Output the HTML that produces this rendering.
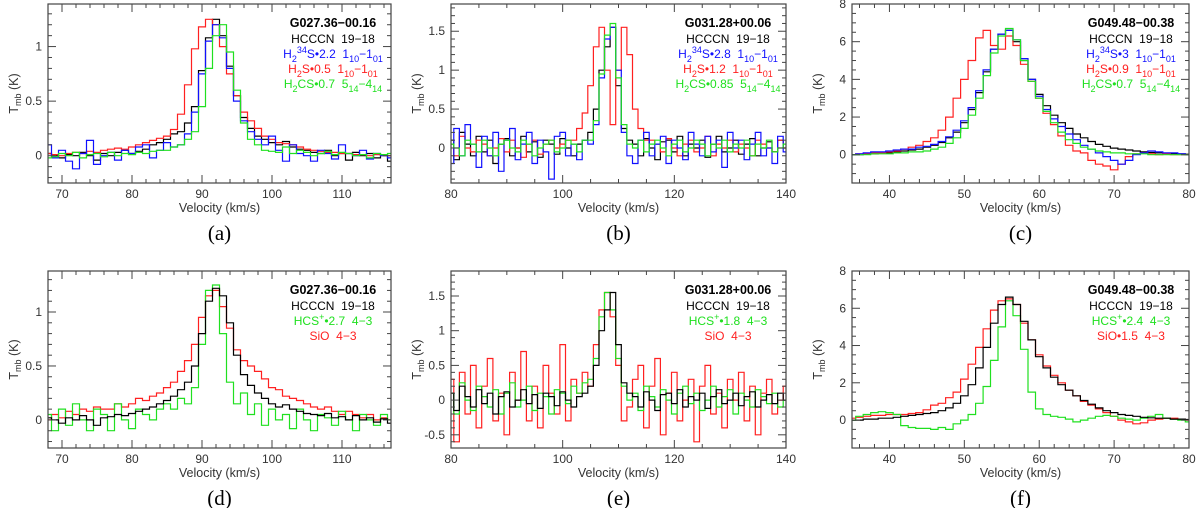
<!DOCTYPE html>
<html><head><meta charset="utf-8"><style>
body{margin:0;background:#fff;width:1200px;height:508px;overflow:hidden}
svg{display:block}
text{font-family:"Liberation Sans",sans-serif}
</style></head><body>
<svg id="fig" width="1200" height="508" viewBox="0 0 1200 508"></svg>
<script>
// ---- data arrays (Tmb in K per 1 km/s channel) ----
const aBlack=[0.02,0,-0.02,0.01,0,0.03,0,-0.04,0.02,0,0.03,0.05,0.02,0.04,0.06,0.1,0.12,0.15,0.2,0.22,0.3,0.45,0.78,1.08,1.25,1.1,0.82,0.55,0.35,0.25,0.18,0.15,0.12,0.1,0.13,0.08,0.06,0.05,0.03,0.02,0.05,0,0.02,-0.04,0.03,0,0.02,-0.02,0.01,-0.05];
const aBlue=[0.1,-0.02,0.05,-0.05,-0.12,0.02,0.14,-0.08,0,0.03,-0.04,0.05,0.02,0.08,0.1,-0.02,0.05,0.12,0.08,0.1,0.2,0.4,0.75,1.05,1.2,1.08,0.8,0.5,0.32,0.22,0.15,0.1,0.18,0.05,-0.05,0.1,0.02,0.0,-0.05,0.05,0.02,-0.03,0.1,0.02,0.0,0.05,-0.03,0.02,0.0,-0.02];
const aRed=[0.02,0.01,0,0.02,0.03,0.02,0.04,0.03,0.05,0.06,0.07,0.06,0.08,0.1,0.12,0.14,0.16,0.18,0.24,0.38,0.65,0.98,1.18,1.25,1.2,1.0,0.75,0.55,0.4,0.32,0.25,0.18,0.15,0.12,0.11,0.1,0.08,0.06,0.05,0.04,0.03,0.03,0.02,0.02,0.01,0.01,0,0.01,0,0];
const aGreen=[-0.02,-0.01,0.02,0,0.03,-0.02,0.01,0.02,-0.01,0.03,0,0.02,0.01,0.03,0.02,0.04,0.05,0.05,0.08,0.1,0.15,0.22,0.45,0.8,1.1,1.2,0.95,0.6,0.3,0.15,0.1,0.05,0.04,0.03,0.08,0.02,0.05,0.03,0.0,0.02,0.04,0.01,0.03,0.02,0.0,0.01,-0.02,0.02,0.01,0.02];

const bBlack=[0.1,-0.15,0.2,0.05,-0.1,0.15,-0.05,0.1,-0.2,0.05,0.12,-0.1,0.0,0.15,-0.05,0.08,-0.12,0.1,0.05,-0.08,0.12,0.0,-0.1,0.05,0.1,0.2,0.5,1.0,1.3,1.55,0.8,0.25,0.1,0.05,-0.1,0.12,0.0,-0.15,0.08,0.1,-0.05,0.15,-0.1,0.05,0.0,0.1,-0.12,0.05,0.15,-0.05,0.0,0.1,-0.08,0.05,0.12,-0.1,0.0,0.08,-0.05,0.1,0.0];
const bBlue=[-0.2,0.25,-0.1,0.3,0.05,-0.25,0.15,-0.1,0.2,-0.3,0.1,0.25,-0.15,0.05,0.2,-0.2,0.1,-0.05,-0.4,0.15,0.2,-0.1,0.05,-0.15,0.1,0.05,0.3,0.9,1.4,1.55,1.0,0.2,-0.1,-0.2,0.1,0.2,-0.1,0.05,0.15,-0.2,0.1,0.0,-0.15,0.2,0.05,-0.1,0.15,-0.05,0.1,-0.25,0.2,0.0,0.1,-0.15,0.05,0.2,-0.1,0.0,-0.2,0.15,-0.05];
const bRed=[0.05,-0.1,0.15,0.0,-0.05,0.1,0.05,-0.1,0.0,0.12,-0.05,0.1,0.0,-0.12,0.05,0.1,-0.08,0.05,0.1,0.0,0.05,0.1,0.1,0.25,0.45,0.8,1.3,1.55,1.0,0.3,1.0,1.55,1.2,0.5,0.25,0.1,0.1,0.05,-0.05,0.12,0.0,-0.1,0.05,0.1,-0.05,0.0,0.15,-0.1,0.05,0.0,0.1,-0.05,0.05,0.0,-0.1,0.1,0.05,0.0,-0.05,0.1,0.0];
const bGreen=[0.05,0.0,-0.1,0.1,0.05,-0.05,0.1,0.0,-0.1,0.05,0.1,0.0,-0.05,0.1,0.05,-0.1,0.0,0.05,0.1,-0.05,0.0,0.1,0.05,-0.05,0.1,0.1,0.35,0.95,1.45,1.6,0.9,0.3,0.05,0.0,0.1,-0.05,0.05,0.1,0.0,-0.1,0.05,0.1,-0.05,0.0,0.1,0.05,-0.1,0.05,0.0,0.1,-0.05,0.05,0.0,0.1,-0.1,0.05,0.0,0.1,-0.05,0.0,0.05];

const cBlack=[0,0,0.05,0.05,0.1,0.1,0.15,0.2,0.25,0.3,0.4,0.5,0.65,0.9,1.2,1.7,2.4,3.3,4.4,5.6,6.4,6.6,6.0,5.0,4.0,3.2,2.6,2.1,1.7,1.4,1.1,0.9,0.7,0.55,0.45,0.35,0.3,0.25,0.2,0.15,0.12,0.1,0.08,0.05,0.05,0.03];
const cBlue=[0,0.05,0.1,0.15,0.15,0.2,0.25,0.3,0.3,0.4,0.45,0.55,0.7,0.95,1.3,1.8,2.5,3.4,4.5,5.6,6.4,6.6,6.1,5.1,4.0,3.1,2.4,1.9,1.5,1.1,0.8,0.5,0.3,0.1,-0.1,-0.3,-0.5,-0.3,0.0,0.1,0.2,0.15,0.1,0.1,0.05,0.0];
const cRed=[0,0.05,0.05,0.1,0.1,0.15,0.2,0.3,0.4,0.5,0.7,0.9,1.3,2.0,3.0,4.0,5.0,6.2,6.6,5.8,5.6,6.3,5.8,4.8,3.9,3.0,2.2,1.6,1.0,0.5,0.2,0.1,-0.3,-0.5,-0.6,-0.8,-0.5,-0.1,0.05,0.1,0.05,0.0,0.05,0.0,0.0,0.0];
const cGreen=[0,0,0,0.05,0.05,0.05,0.1,0.1,0.15,0.15,0.2,0.3,0.4,0.6,0.9,1.4,2.1,3.0,4.2,5.4,6.3,6.7,6.1,5.0,3.9,3.0,2.3,1.7,1.2,0.8,0.6,0.4,0.3,0.2,0.15,0.1,0.1,0.05,0.05,0.05,0.0,0.0,0.0,0.0,0.0,0.0];

const dBlack=[0.02,0,-0.03,0.02,0,0.04,0,-0.05,0.02,0.03,0.05,0.04,0.06,0.08,0.1,0.12,0.15,0.18,0.22,0.28,0.35,0.5,0.8,1.1,1.22,1.15,0.9,0.6,0.42,0.32,0.25,0.2,0.15,0.12,0.14,0.1,0.08,0.06,0.05,0.04,0.06,0.02,0.03,0.0,0.04,0.0,0.02,-0.02,0.01,-0.03];
const dGreen=[0.05,-0.1,0.1,-0.05,0.15,0.0,-0.1,0.1,0.05,-0.1,0.15,0.0,-0.08,0.1,0.05,0.0,0.1,0.15,0.1,0.2,0.15,0.3,0.7,1.2,1.25,0.8,0.35,0.15,0.25,0.05,0.15,-0.05,0.1,0.0,0.05,-0.08,0.1,0.0,-0.1,0.05,0.02,-0.05,0.08,0.0,-0.1,0.05,0.0,-0.05,0.05,0.0];
const dRed=[0.0,0.05,0.02,0.08,0.05,0.1,0.08,0.12,0.1,0.1,0.15,0.12,0.15,0.2,0.18,0.22,0.25,0.3,0.35,0.45,0.55,0.7,0.95,1.15,1.2,1.05,0.85,0.65,0.55,0.5,0.45,0.38,0.3,0.28,0.22,0.2,0.18,0.15,0.12,0.1,0.12,0.08,0.05,0.08,0.05,0.02,0.05,0.0,0.02,0.0];

const eBlack=[0.1,-0.15,0.2,0.05,-0.1,0.15,-0.05,0.1,-0.2,0.05,0.12,-0.1,0.0,0.15,-0.05,0.08,-0.12,0.1,0.05,-0.08,0.12,0.0,-0.1,0.05,0.1,0.2,0.5,1.0,1.3,1.55,0.8,0.25,0.1,0.05,-0.1,0.12,0.0,-0.15,0.08,0.1,-0.05,0.15,-0.1,0.05,0.0,0.1,-0.12,0.05,0.15,-0.05,0.0,0.1,-0.08,0.05,0.12,-0.1,0.0,0.08,-0.05,0.1,0.0];
const eGreen=[0.1,-0.2,0.25,0.0,-0.15,0.2,0.05,-0.1,0.15,-0.2,0.1,0.25,-0.1,0.0,0.2,-0.15,0.1,0.05,-0.2,0.15,0.1,-0.05,0.2,0.1,0.25,0.3,0.6,1.2,1.55,1.3,0.6,0.2,0.0,0.1,-0.15,0.2,0.05,-0.1,0.15,0.0,-0.2,0.1,0.2,-0.05,0.1,-0.15,0.0,0.2,-0.1,0.05,0.15,-0.2,0.1,0.0,-0.1,0.15,0.05,-0.05,0.1,-0.1,0.0];
const eRed=[0.3,-0.6,0.4,-0.2,0.5,-0.4,0.2,0.6,-0.3,0.1,-0.5,0.4,0.0,0.7,-0.3,0.2,-0.4,0.5,0.1,-0.2,0.8,-0.3,0.3,0.1,0.4,0.2,0.8,1.3,1.55,1.2,0.5,-0.3,-0.1,0.3,0.5,-0.4,0.2,0.6,-0.5,0.1,0.4,-0.3,0.0,0.3,-0.6,0.2,0.5,-0.2,0.1,-0.4,0.3,0.0,0.4,-0.3,0.2,-0.5,0.1,0.3,-0.2,0.0,0.2];

const fBlack=[0,0,0.05,0.05,0.1,0.1,0.15,0.2,0.25,0.3,0.35,0.4,0.5,0.65,0.9,1.3,1.9,2.8,3.9,5.2,6.2,6.6,6.2,5.3,4.3,3.4,2.8,2.3,1.9,1.6,1.3,1.05,0.85,0.65,0.5,0.4,0.3,0.25,0.2,0.15,0.12,0.1,0.1,0.05,0.05,0.03];
const fGreen=[0.0,0.2,0.3,0.4,0.45,0.4,0.3,-0.3,-0.4,-0.45,-0.45,-0.5,-0.4,-0.5,-0.2,0.0,0.3,0.9,1.8,3.2,5.0,6.4,5.6,3.8,1.5,0.6,0.3,0.2,0.15,0.05,-0.1,0.0,0.1,0.2,0.25,0.2,0.1,0.05,0.0,0.1,0.2,0.3,0.1,0.05,0.0,-0.1];
const fRed=[0.1,0.15,0.2,0.25,0.25,0.3,0.3,0.3,0.35,0.4,0.55,0.8,0.9,1.2,1.5,2.2,3.0,3.9,4.9,5.9,6.4,6.5,6.2,5.2,4.3,3.5,2.9,2.4,2.0,1.6,1.3,1.0,0.8,0.6,0.4,0.2,0.0,-0.1,-0.2,-0.15,0.0,0.05,0.1,0.1,0.05,0.0];

const xTicksA=[70,80,90,100,110], yTicksA=[0,0.5,1];
const xTicksB=[80,100,120,140], yTicksB=[0,0.5,1,1.5], yTicksE=[-0.5,0,0.5,1,1.5];
const xTicksC=[40,50,60,70,80], yTicksC=[0,2,4,6,8];

const NS='http://www.w3.org/2000/svg';
const svg=document.getElementById('fig');
function el(tag,attrs,parent){const e=document.createElementNS(NS,tag);for(const k in attrs)e.setAttribute(k,attrs[k]);(parent||svg).appendChild(e);return e;}

const panels=[
 {id:'a',L:48,R:391,T:4,B:183,x0:68,x1:117,y0:-0.25,y1:1.39,xt:xTicksA,yt:yTicksA,xm:2,ym:0.1,
  series:[[aBlack,'#000'],[aRed,'#ff2020'],[aBlue,'#1010ff'],[aGreen,'#20e020']],vs:68,
  src:'G027.36\u221200.16',leg:[['HCCCN  19\u221218','#000'],['H2^34S*2.2  1_10\u22121_01','#1010ff'],['H_2S*0.5  1_10\u22121_01','#ff2020'],['H_2CS*0.7  5_14\u22124_14','#20e020']]},
 {id:'b',L:451,R:786,T:4,B:183,x0:80,x1:140,y0:-0.45,y1:1.85,xt:xTicksB,yt:yTicksB,xm:5,ym:0.1,
  series:[[bBlack,'#000'],[bRed,'#ff2020'],[bBlue,'#1010ff'],[bGreen,'#20e020']],vs:80,
  src:'G031.28+00.06',leg:[['HCCCN  19\u221218','#000'],['H2^34S*2.8  1_10\u22121_01','#1010ff'],['H_2S*1.2  1_10\u22121_01','#ff2020'],['H_2CS*0.85  5_14\u22124_14','#20e020']]},
 {id:'c',L:852,R:1189,T:4,B:183,x0:35,x1:80,y0:-1.5,y1:8,xt:xTicksC,yt:yTicksC,xm:2,ym:0.5,
  series:[[cBlack,'#000'],[cRed,'#ff2020'],[cBlue,'#1010ff'],[cGreen,'#20e020']],vs:35,
  src:'G049.48\u221200.38',leg:[['HCCCN  19\u221218','#000'],['H2^34S*3  1_10\u22121_01','#1010ff'],['H_2S*0.9  1_10\u22121_01','#ff2020'],['H_2CS*0.7  5_14\u22124_14','#20e020']]},
 {id:'d',L:48,R:391,T:271,B:448,x0:68,x1:117,y0:-0.26,y1:1.38,xt:xTicksA,yt:yTicksA,xm:2,ym:0.1,
  series:[[dRed,'#ff2020'],[dGreen,'#20e020'],[dBlack,'#000']],vs:68,
  src:'G027.36\u221200.16',leg:[['HCCCN  19\u221218','#000'],['HCS^+*2.7  4\u22123','#20e020'],['SiO  4\u22123','#ff2020']]},
 {id:'e',L:451,R:786,T:271,B:448,x0:80,x1:140,y0:-0.69,y1:1.86,xt:xTicksB,yt:yTicksE,xm:5,ym:0.1,
  series:[[eRed,'#ff2020'],[eGreen,'#20e020'],[eBlack,'#000']],vs:80,
  src:'G031.28+00.06',leg:[['HCCCN  19\u221218','#000'],['HCS^+*1.8  4\u22123','#20e020'],['SiO  4\u22123','#ff2020']]},
 {id:'f',L:852,R:1189,T:271,B:448,x0:35,x1:80,y0:-1.5,y1:8,xt:xTicksC,yt:yTicksC,xm:2,ym:0.5,
  series:[[fRed,'#ff2020'],[fGreen,'#20e020'],[fBlack,'#000']],vs:35,
  src:'G049.48\u221200.38',leg:[['HCCCN  19\u221218','#000'],['HCS^+*2.4  4\u22123','#20e020'],['SiO*1.5  4\u22123','#ff2020']]},
];

let curShift=0;
function addT(t,txt,mode){
  const sp=document.createElementNS(NS,'tspan');
  const target=mode===1?4:mode===-1?-5:0;
  sp.setAttribute('dy',target-curShift);
  curShift=target;
  if(mode!==0)sp.setAttribute('font-size','9');
  sp.textContent=txt;
  t.appendChild(sp);
}
function richText(t,str){
  let s=str.replace('*','\u2022');
  let i=0;
  while(i<s.length){
    if(s.startsWith('H2^',i)){ addT(t,'H',0); addT(t,'2',1); i+=3; let j=i; while(/\d/.test(s[j]))j++; addT(t,s.slice(i,j),-1); i=j; continue;}
    if(s[i]==='_'){let j=i+1; while(j<s.length&&/\d/.test(s[j]))j++; addT(t,s.slice(i+1,j),1); i=j; continue;}
    if(s[i]==='^'){let j=i+1; while(j<s.length&&s[j]!=='\u2022')j++; addT(t,s.slice(i+1,j),-1); i=j; continue;}
    let j=i; while(j<s.length&&s[j]!=='_'&&s[j]!=='^'&&!s.startsWith('H2^',j))j++;
    addT(t,s.slice(i,j),0); i=j;
  }
}

panels.forEach(p=>{
  const g=el('g',{});
  
  
  const X=v=>p.L+(v-p.x0)/(p.x1-p.x0)*(p.R-p.L);
  const Y=v=>p.B-(v-p.y0)/(p.y1-p.y0)*(p.B-p.T);
  const clipId='clip'+p.id;
  const cp=el('clipPath',{id:clipId},g); el('rect',{x:p.L,y:p.T,width:p.R-p.L,height:p.B-p.T},cp);
  p.series.forEach((s,k)=>{
    const arr=s[0];
    let d='';
    for(let i=0;i<arr.length;i++){
      const xa=X(p.vs+i-0.5), xb=X(p.vs+i+0.5), y=Y(arr[i]);
      d+=(i===0?'M':'L')+xa.toFixed(1)+','+y.toFixed(1)+'L'+xb.toFixed(1)+','+y.toFixed(1);
    }
    const path=el('path',{d:d,fill:'none',stroke:s[1],'stroke-width':1.2,'clip-path':'url(#'+clipId+')'},g);
    
    
  });
  const fr=el('rect',{x:p.L,y:p.T,width:p.R-p.L,height:p.B-p.T,fill:'none',stroke:'#444','stroke-width':1.2},g);
  
  
  for(let v=Math.ceil(p.x0/p.xm)*p.xm; v<=p.x1; v+=p.xm){
    const x=X(v); const major=p.xt.includes(v);
    const h=major?8:4;
    el('line',{x1:x,y1:p.B,x2:x,y2:p.B-h,stroke:'#444'},g);
    el('line',{x1:x,y1:p.T,x2:x,y2:p.T+h,stroke:'#444'},g);
  }
  for(let v=Math.ceil(p.y0/p.ym-1e-6)*p.ym; v<=p.y1+1e-9; v+=p.ym){
    const vv=Math.round(v*100)/100; const y=Y(vv);
    const major=p.yt.some(t=>Math.abs(t-vv)<1e-6); const h=major?8:4;
    el('line',{x1:p.L,y1:y,x2:p.L+h,y2:y,stroke:'#444'},g);
    el('line',{x1:p.R,y1:y,x2:p.R-h,y2:y,stroke:'#444'},g);
  }
  p.xt.forEach(v=>{const t=el('text',{x:X(v),y:p.B+15,'text-anchor':'middle','font-size':12,fill:'#333'},g);t.textContent=v;
    });
  p.yt.forEach(v=>{const t=el('text',{x:p.L-6,y:Y(v)+4,'text-anchor':'end','font-size':12,fill:'#333'},g);t.textContent=v;
    });
  const xt=el('text',{x:(p.L+p.R)/2,y:p.B+29,'text-anchor':'middle','font-size':12.5,fill:'#333'},g);
  xt.textContent='Velocity (km/s)';
  
  const yx=p.L-30, yy=(p.T+p.B)/2;
  const yt=el('text',{x:yx,y:yy,transform:'rotate(-90 '+yx+' '+yy+')','text-anchor':'middle','font-size':12.5,fill:'#333'},g);
  yt.innerHTML='T<tspan font-size="9" dy="3">mb</tspan><tspan dy="-3"> (K)</tspan>';
  
  const lx=p.R-58;
  const st=el('text',{x:lx,y:p.T+23,'text-anchor':'middle','font-size':12.5,'font-weight':'bold',fill:'#000'},g);
  st.textContent=p.src;
  
  p.leg.forEach((l,i)=>{
    const t=el('text',{x:lx,y:p.T+39+i*15,'text-anchor':'middle','font-size':12,fill:l[1],'xml:space':'preserve'},g);
    t.setAttribute('style','white-space:pre');
    curShift=0; richText(t,l[0]);
    
  });
  const pl=el('text',{x:(p.L+p.R)/2,y:p.B+57,'text-anchor':'middle','font-size':21,fill:'#000'},g);
  pl.setAttribute('style','font-family:"Liberation Serif",serif');
  pl.textContent='('+p.id+')';
  
});
</script>
</body></html>
